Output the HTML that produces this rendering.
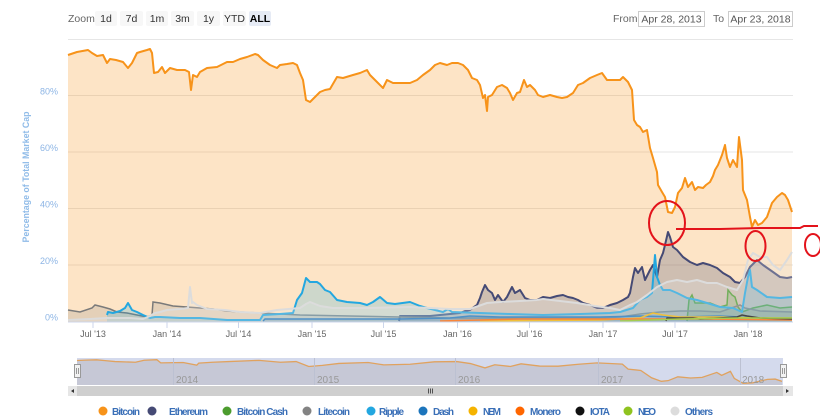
<!DOCTYPE html>
<html><head><meta charset="utf-8"><style>
html,body{margin:0;padding:0;background:#fff;}
svg{display:block;font-family:"Liberation Sans",sans-serif;}
</style></head><body>
<svg width="820" height="418" viewBox="0 0 820 418" xmlns="http://www.w3.org/2000/svg">
<rect width="820" height="418" fill="#fff"/>
<!-- range selector -->
<text x="68" y="22" font-size="10.5" fill="#666">Zoom</text>
<g font-size="10.5" fill="#333" text-anchor="middle">
<rect x="95" y="11" width="22" height="15" rx="2" fill="#f7f7f7"/><text x="106" y="22">1d</text>
<rect x="120" y="11" width="23" height="15" rx="2" fill="#f7f7f7"/><text x="131.5" y="22">7d</text>
<rect x="146" y="11" width="22" height="15" rx="2" fill="#f7f7f7"/><text x="157" y="22">1m</text>
<rect x="171" y="11" width="23" height="15" rx="2" fill="#f7f7f7"/><text x="182.5" y="22">3m</text>
<rect x="197" y="11" width="23" height="15" rx="2" fill="#f7f7f7"/><text x="208.5" y="22">1y</text>
<rect x="223" y="11" width="23" height="15" rx="2" fill="#f7f7f7"/><text x="234.5" y="22">YTD</text>
<rect x="249" y="11" width="22" height="15" rx="2" fill="#e6ebf5"/><text x="260" y="22" font-weight="bold" fill="#000">ALL</text>
</g>
<text x="613" y="22" font-size="10.5" fill="#666">From</text>
<rect x="638.5" y="11.5" width="66" height="15" fill="#fff" stroke="#ccc"/>
<text x="671.5" y="22.5" font-size="10.5" fill="#555" text-anchor="middle">Apr 28, 2013</text>
<text x="713" y="22" font-size="10.5" fill="#666">To</text>
<rect x="728.5" y="11.5" width="64" height="15" fill="#fff" stroke="#ccc"/>
<text x="760.5" y="22.5" font-size="10.5" fill="#555" text-anchor="middle">Apr 23, 2018</text>

<!-- grid -->
<g stroke="#e6e6e6" stroke-width="1">
<line x1="68" y1="39.5" x2="793" y2="39.5"/>
<line x1="68" y1="95.5" x2="793" y2="95.5"/>
<line x1="68" y1="152" x2="793" y2="152"/>
<line x1="68" y1="208.5" x2="793" y2="208.5"/>
<line x1="68" y1="265" x2="793" y2="265"/>
</g>
<g font-size="9" fill="#8db5e5" text-anchor="end">
<text x="58" y="94.5">80%</text>
<text x="58" y="151">60%</text>
<text x="58" y="207.5">40%</text>
<text x="58" y="264">20%</text>
<text x="58" y="320.5">0%</text>
</g>
<text transform="translate(29,177) rotate(-90)" font-size="9.5" font-weight="bold" fill="#8fbbe8" text-anchor="middle" textLength="131" lengthAdjust="spacingAndGlyphs">Percentage of Total Market Cap</text>

<!-- Bitcoin -->
<polygon fill="#f7931a" fill-opacity="0.25" points="68,322 68,55 77,52 88,50 92,53 97,56 103,55 107,63 110,59 116,60 123,62 128,68 132,63 137,53 140,52 147,50 150,49 152,53 154,73 158,72 162,67 165,73 170,68 177,70 185,70 189,72 191,90 193,75 197,77 200,72 207,68 217,67 227,62 233,62 240,59 247,57 255,54 258,55 263,60 270,65 277,68 280,65 287,64 293,63 297,65 300,73 303,80 306,100 310,102 315,97 320,92 325,90 330,89 337,77 343,78 353,75 360,73 367,70 370,75 377,82 383,88 387,80 393,83 400,83 410,83 417,80 423,75 430,70 435,65 440,63 447,65 452,63 458,63 463,65 468,70 472,78 477,80 480,85 483,98 485,95 487,111 488,97 492,95 497,87 502,85 507,88 510,93 513,100 517,93 520,92 524,80 527,87 530,85 535,90 538,95 543,97 550,95 557,97 562,98 567,97 573,93 578,85 583,83 590,78 597,75 602,73 607,80 613,80 620,80 623,77 628,82 632,90 634,120 637,125 640,127 643,132 647,130 650,148 653,158 657,172 658,185 662,192 665,197 668,212 672,213 675,207 678,193 682,188 685,178 688,187 692,182 695,190 698,187 703,188 706,185 710,182 713,176 715,170 718,165 722,155 725,145 727,158 730,167 733,160 737,167 739,137 742,160 743,190 747,200 750,217 752,227 755,220 758,225 762,223 767,217 772,203 777,197 782,193 785,195 788,200 790,206 792,212 792,322"/>
<polyline fill="none" stroke="#f7931a" stroke-width="2" stroke-linejoin="round" points="68,55 77,52 88,50 92,53 97,56 103,55 107,63 110,59 116,60 123,62 128,68 132,63 137,53 140,52 147,50 150,49 152,53 154,73 158,72 162,67 165,73 170,68 177,70 185,70 189,72 191,90 193,75 197,77 200,72 207,68 217,67 227,62 233,62 240,59 247,57 255,54 258,55 263,60 270,65 277,68 280,65 287,64 293,63 297,65 300,73 303,80 306,100 310,102 315,97 320,92 325,90 330,89 337,77 343,78 353,75 360,73 367,70 370,75 377,82 383,88 387,80 393,83 400,83 410,83 417,80 423,75 430,70 435,65 440,63 447,65 452,63 458,63 463,65 468,70 472,78 477,80 480,85 483,98 485,95 487,111 488,97 492,95 497,87 502,85 507,88 510,93 513,100 517,93 520,92 524,80 527,87 530,85 535,90 538,95 543,97 550,95 557,97 562,98 567,97 573,93 578,85 583,83 590,78 597,75 602,73 607,80 613,80 620,80 623,77 628,82 632,90 634,120 637,125 640,127 643,132 647,130 650,148 653,158 657,172 658,185 662,192 665,197 668,212 672,213 675,207 678,193 682,188 685,178 688,187 692,182 695,190 698,187 703,188 706,185 710,182 713,176 715,170 718,165 722,155 725,145 727,158 730,167 733,160 737,167 739,137 742,160 743,190 747,200 750,217 752,227 755,220 758,225 762,223 767,217 772,203 777,197 782,193 785,195 788,200 790,206 792,212"/>

<!-- Ethereum -->
<polygon fill="#454a75" fill-opacity="0.25" points="399,322 399,321 400,316 410,316 430,316 440,315 450,314 460,313 465,311 470,310 474,307 477,305 480,298 482,292 485,285 488,290 492,293 495,300 498,295 503,302 507,297 510,291 512,287 515,293 520,290 525,298 530,300 537,300 543,297 550,298 557,296 563,295 568,297 573,298 578,300 583,303 590,305 597,308 603,308 610,305 617,303 623,300 628,297 630,293 633,277 635,268 638,273 642,267 645,280 650,270 653,265 657,277 660,260 663,253 665,245 668,232 670,237 673,247 677,250 683,257 690,262 697,265 703,263 710,265 717,268 723,273 730,277 735,282 740,283 745,277 750,267 757,260 763,265 773,272 780,277 787,278 792,277 792,322"/>
<polyline fill="none" stroke="#454a75" stroke-width="2" stroke-linejoin="round" points="399,321 400,316 410,316 430,316 440,315 450,314 460,313 465,311 470,310 474,307 477,305 480,298 482,292 485,285 488,290 492,293 495,300 498,295 503,302 507,297 510,291 512,287 515,293 520,290 525,298 530,300 537,300 543,297 550,298 557,296 563,295 568,297 573,298 578,300 583,303 590,305 597,308 603,308 610,305 617,303 623,300 628,297 630,293 633,277 635,268 638,273 642,267 645,280 650,270 653,265 657,277 660,260 663,253 665,245 668,232 670,237 673,247 677,250 683,257 690,262 697,265 703,263 710,265 717,268 723,273 730,277 735,282 740,283 745,277 750,267 757,260 763,265 773,272 780,277 787,278 792,277"/>

<!-- Bitcoin Cash -->
<polygon fill="#4c9c2e" fill-opacity="0.22" points="687,322 687,321 689,300 692,295 695,303 710,303 720,307 727,305 728,290 732,295 735,297 738,307 742,312 753,308 767,305 780,308 792,307 792,322"/>
<polyline fill="none" stroke="#4c9c2e" stroke-width="1.5" points="687,321 689,300 692,295 695,303 710,303 720,307 727,305 728,290 732,295 735,297 738,307 742,312 753,308 767,305 780,308 792,307"/>

<!-- Litecoin -->
<polygon fill="#838383" fill-opacity="0.2" points="68,322 68,310 80,312 92,308 95,305 103,307 110,309 117,312 127,313 137,315 147,317 152,315 153,302 160,303 173,306 187,307 200,308 213,309 227,311 240,312 260,313 300,315 350,316 400,317 450,318 500,318 550,318 600,318 620,317 640,314 660,312 680,311 700,311 720,312 740,305 745,308 760,311 792,312 792,322"/>
<polyline fill="none" stroke="#7a7a7a" stroke-width="1.5" points="68,310 80,312 92,308 95,305 103,307 110,309 117,312 127,313 137,315 147,317 152,315 153,302 160,303 173,306 187,307 200,308 213,309 227,311 240,312 260,313 300,315 350,316 400,317 450,318 500,318 550,318 600,318 620,317 640,314 660,312 680,311 700,311 720,312 740,305 745,308 760,311 792,312"/>

<!-- Ripple -->
<polygon fill="#23a7e0" fill-opacity="0.22" points="107,322 107,315 108,312 113,313 120,311 125,308 128,303 132,310 137,312 143,315 150,318 155,317 160,317 180,318 200,318 227,320 260,320 263,315 280,314 293,313 297,300 302,293 306,278 310,282 317,282 320,284 325,290 330,292 337,300 342,301 347,302 360,303 367,305 373,302 380,297 387,303 395,304 410,302 420,306 427,308 435,310 443,312 448,309 452,312 480,313 510,314 543,315 580,314 610,313 620,312 633,308 640,300 647,297 652,293 653,280 655,255 657,277 660,285 663,290 670,290 677,293 687,298 697,300 707,303 720,307 733,308 742,312 745,293 748,277 750,270 752,287 757,290 767,297 780,298 792,297 792,322"/>
<polyline fill="none" stroke="#23a7e0" stroke-width="2" stroke-linejoin="round" points="107,315 108,312 113,313 120,311 125,308 128,303 132,310 137,312 143,315 150,318 155,317 160,317 180,318 200,318 227,320 260,320 263,315 280,314 293,313 297,300 302,293 306,278 310,282 317,282 320,284 325,290 330,292 337,300 342,301 347,302 360,303 367,305 373,302 380,297 387,303 395,304 410,302 420,306 427,308 435,310 443,312 448,309 452,312 480,313 510,314 543,315 580,314 610,313 620,312 633,308 640,300 647,297 652,293 653,280 655,255 657,277 660,285 663,290 670,290 677,293 687,298 697,300 707,303 720,307 733,308 742,312 745,293 748,277 750,270 752,287 757,290 767,297 780,298 792,297"/>

<!-- Dash -->
<polygon fill="#1c75bc" fill-opacity="0.2" points="263,322 263,321 265,319 300,319 350,319 400,319 450,318 470,316 500,317 550,317 600,317 640,316 680,317 720,316 760,318 792,318 792,322"/>
<polyline fill="none" stroke="#1c75bc" stroke-width="1.5" points="263,321 265,319 300,319 350,319 400,319 450,318 470,316 500,317 550,317 600,317 640,316 680,317 720,316 760,318 792,318"/>

<!-- NEM, Monero, IOTA, NEO -->
<polyline fill="none" stroke="#f5b300" stroke-width="1.5" points="480,321 600,320 640,318 653,313 663,315 680,317 720,317 760,318 792,318"/>
<polyline fill="none" stroke="#ff6600" stroke-width="1.5" points="440,321 480,320 520,319 600,319 650,319 700,319 792,320"/>
<polyline fill="none" stroke="#111" stroke-width="1.5" points="666,321 667,318 693,318 700,319 737,317 742,315 747,316 760,318 792,319"/>
<polyline fill="none" stroke="#8fc31f" stroke-width="1.5" points="620,321 680,319 740,318 760,318 792,318"/>

<!-- Others -->
<polygon fill="#e8e8e8" fill-opacity="0.25" points="68,322 68,320 90,319 107,318 130,318 143,319 150,316 155,313 160,312 167,310 180,309 188,308 190,287 192,303 193,302 197,305 207,309 225,310 240,312 260,313 277,310 300,308 306,304 310,302 315,304 320,306 333,308 367,308 410,307 430,308 450,309 470,309 487,303 500,302 520,301 537,300 543,299 560,301 577,303 595,306 610,308 620,310 630,305 637,302 647,295 657,287 667,282 677,280 687,282 697,280 707,283 717,283 727,287 737,290 743,280 748,260 753,253 760,257 767,257 773,265 780,270 787,260 792,252 792,322"/>
<polyline fill="none" stroke="#dcdcdc" stroke-width="2" stroke-linejoin="round" points="68,320 90,319 107,318 130,318 143,319 150,316 155,313 160,312 167,310 180,309 188,308 190,287 192,303 193,302 197,305 207,309 225,310 240,312 260,313 277,310 300,308 306,304 310,302 315,304 320,306 333,308 367,308 410,307 430,308 450,309 470,309 487,303 500,302 520,301 537,300 543,299 560,301 577,303 595,306 610,308 620,310 630,305 637,302 647,295 657,287 667,282 677,280 687,282 697,280 707,283 717,283 727,287 737,290 743,280 748,260 753,253 760,257 767,257 773,265 780,270 787,260 792,252"/>

<!-- x axis -->
<line x1="68" y1="322" x2="793" y2="322" stroke="#ccd6eb"/>
<g stroke="#ccd6eb">
<line x1="93" y1="322" x2="93" y2="328"/><line x1="167" y1="322" x2="167" y2="328"/><line x1="238.5" y1="322" x2="238.5" y2="328"/><line x1="312" y1="322" x2="312" y2="328"/><line x1="383.5" y1="322" x2="383.5" y2="328"/><line x1="457.5" y1="322" x2="457.5" y2="328"/><line x1="529.5" y1="322" x2="529.5" y2="328"/><line x1="603" y1="322" x2="603" y2="328"/><line x1="675" y1="322" x2="675" y2="328"/><line x1="748" y1="322" x2="748" y2="328"/>
</g>
<g font-size="9" fill="#666" text-anchor="middle">
<text x="93" y="337">Jul '13</text><text x="167" y="337">Jan '14</text><text x="238.5" y="337">Jul '14</text><text x="312" y="337">Jan '15</text><text x="383.5" y="337">Jul '15</text><text x="457.5" y="337">Jan '16</text><text x="529.5" y="337">Jul '16</text><text x="603" y="337">Jan '17</text><text x="675" y="337">Jul '17</text><text x="748" y="337">Jan '18</text>
</g>

<!-- navigator -->
<rect x="77" y="358" width="706" height="27" fill="#d4daed"/>
<polygon fill="#c6c8d6" transform="matrix(0.9738,0,0,0.1327,10.78,353.2)" points="68,240 68,55 77,52 88,50 97,56 107,63 128,68 137,53 150,49 154,73 177,70 191,90 193,75 207,68 227,62 255,54 277,68 293,63 306,100 320,92 337,77 367,70 383,88 410,83 435,65 458,63 472,78 487,111 497,87 513,100 524,80 543,97 562,98 583,83 602,73 628,82 634,120 647,130 658,185 668,212 675,207 685,178 698,187 710,182 725,145 730,167 739,137 743,190 752,227 762,223 777,197 785,195 792,212 792,240"/>
<polyline fill="none" stroke="#e0a25f" stroke-width="1.3" vector-effect="non-scaling-stroke" transform="matrix(0.9738,0,0,0.1327,10.78,353.2)" points="68,55 77,52 88,50 97,56 107,63 128,68 137,53 150,49 154,73 177,70 191,90 193,75 207,68 227,62 255,54 277,68 293,63 306,100 320,92 337,77 367,70 383,88 410,83 435,65 458,63 472,78 487,111 497,87 513,100 524,80 543,97 562,98 583,83 602,73 628,82 634,120 647,130 658,185 668,212 675,207 685,178 698,187 710,182 725,145 730,167 739,137 743,190 752,227 762,223 777,197 785,195 792,212"/>
<g stroke="#bcc1d2" stroke-width="1">
<line x1="173.5" y1="358" x2="173.5" y2="385"/><line x1="314.5" y1="358" x2="314.5" y2="385"/><line x1="455.5" y1="358" x2="455.5" y2="385"/><line x1="598.5" y1="358" x2="598.5" y2="385"/><line x1="740.5" y1="358" x2="740.5" y2="385"/>
</g>
<g font-size="10" fill="#999">
<text x="176" y="383">2014</text><text x="317" y="383">2015</text><text x="458" y="383">2016</text><text x="601" y="383">2017</text><text x="742" y="383">2018</text>
</g>
<rect x="74.5" y="364.5" width="6" height="13" fill="#f2f2f2" stroke="#999"/>
<line x1="76.5" y1="368" x2="76.5" y2="374" stroke="#999"/><line x1="78.5" y1="368" x2="78.5" y2="374" stroke="#999"/>
<rect x="780.5" y="364.5" width="6" height="13" fill="#f2f2f2" stroke="#999"/>
<line x1="782.5" y1="368" x2="782.5" y2="374" stroke="#999"/><line x1="784.5" y1="368" x2="784.5" y2="374" stroke="#999"/>

<!-- scrollbar -->
<rect x="68" y="386" width="725" height="10" fill="#f2f2f2"/>
<rect x="77" y="386" width="706" height="10" fill="#cfcfcf"/>
<rect x="68" y="386" width="9" height="10" fill="#e6e6e6"/>
<rect x="783" y="386" width="10" height="10" fill="#e6e6e6"/>
<polygon points="71,391 74,389 74,393" fill="#333"/>
<polygon points="789,391 786,389 786,393" fill="#333"/>
<g stroke="#333" stroke-width="0.8"><line x1="428.5" y1="388.5" x2="428.5" y2="393.5"/><line x1="430.5" y1="388.5" x2="430.5" y2="393.5"/><line x1="432.5" y1="388.5" x2="432.5" y2="393.5"/></g>

<!-- legend -->
<g>
<circle cx="103" cy="411" r="4.5" fill="#f7931a"/>
<circle cx="152" cy="411" r="4.5" fill="#454a75"/>
<circle cx="227" cy="411" r="4.5" fill="#4c9c2e"/>
<circle cx="307" cy="411" r="4.5" fill="#838383"/>
<circle cx="371" cy="411" r="4.5" fill="#23a7e0"/>
<circle cx="423" cy="411" r="4.5" fill="#1c75bc"/>
<circle cx="473" cy="411" r="4.5" fill="#f5b300"/>
<circle cx="520" cy="411" r="4.5" fill="#ff6600"/>
<circle cx="580" cy="411" r="4.5" fill="#111"/>
<circle cx="628" cy="411" r="4.5" fill="#8fc31f"/>
<circle cx="675" cy="411" r="4.5" fill="#dcdcdc"/>
</g>
<g font-size="10" font-weight="bold" fill="#3a6fb7" lengthAdjust="spacingAndGlyphs">
<text x="112" y="415" textLength="28">Bitcoin</text>
<text x="169" y="415" textLength="39">Ethereum</text>
<text x="237" y="415" textLength="51">Bitcoin Cash</text>
<text x="318" y="415" textLength="32">Litecoin</text>
<text x="379" y="415" textLength="25">Ripple</text>
<text x="433" y="415" textLength="21">Dash</text>
<text x="483" y="415" textLength="18">NEM</text>
<text x="530" y="415" textLength="31">Monero</text>
<text x="590" y="415" textLength="20">IOTA</text>
<text x="638" y="415" textLength="18">NEO</text>
<text x="685" y="415" textLength="28">Others</text>
</g>

<!-- red annotations -->
<g fill="none" stroke="#e3131b" stroke-width="2">
<ellipse cx="667" cy="223" rx="18" ry="22"/>
<polyline points="676,229 720,229 760,228 800,228 804,226 818,226"/>
<ellipse cx="755.5" cy="246" rx="10" ry="15"/>
<ellipse cx="813" cy="245" rx="8" ry="11"/>
</g>
</svg>
</body></html>
